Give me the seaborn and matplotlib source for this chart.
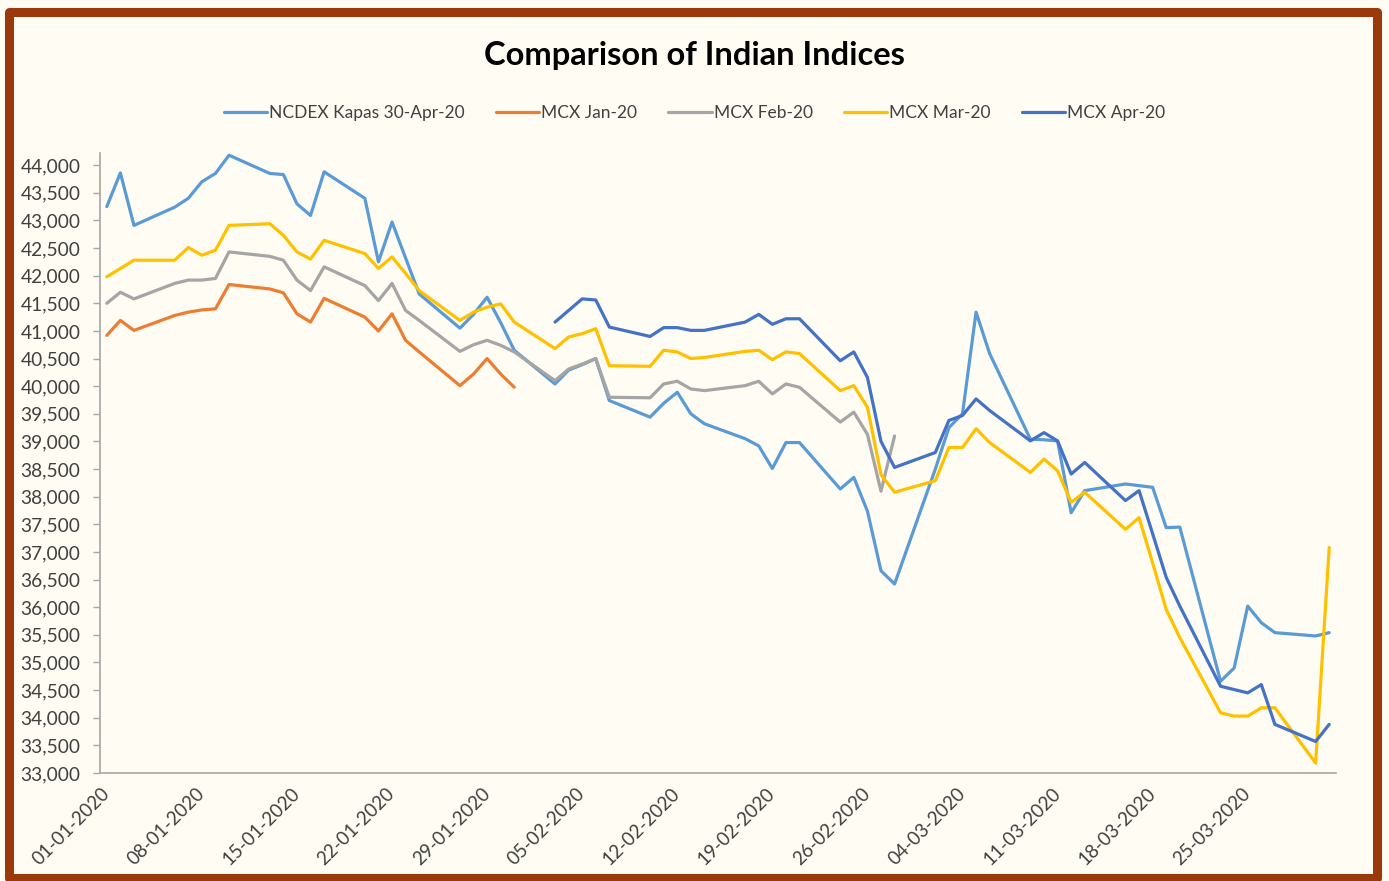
import numpy as np
import pandas as pd
import matplotlib
matplotlib.use('Agg')
import matplotlib.pyplot as plt
import matplotlib.dates as mdates
from matplotlib.patches import Rectangle
from matplotlib.ticker import FuncFormatter
import seaborn as sns

# ---------------------------------------------------------
# Data: trading days Jan-Mar 2020 and closing levels
# ---------------------------------------------------------
JAN_DAYS = [1, 2, 3, 6, 7, 8, 9, 10, 13, 14, 15, 16, 17, 20, 21, 22, 23, 24, 27, 28, 29, 30, 31]
FEB_DAYS = [3, 4, 5, 6, 7, 10, 11, 12, 13, 14, 17, 18, 19, 20, 21, 24, 25, 26, 27, 28]
MAR_DAYS = [2, 3, 4, 5, 6, 9, 10, 11, 12, 13, 16, 17, 18, 19, 20, 23, 24, 25, 26, 27, 30, 31]

NCDEX_KAPAS = [43250, 43860, 42910, 43240, 43400, 43700, 43850, 44180, 43850, 43830, 43300, 43090,
               43880, 43400, 42250, 42970, 42320, 41670, 41050, 41300, 41610, 41150, 40650,
               40040, 40290, 40390, 40500, 39740, 39440, 39690, 39890, 39500, 39320, 39050, 38920,
               38510, 38980, 38980, 38140, 38350, 37740, 36660, 36420,
               38500, 39250, 39500, 41340, 40590, 39040, 39030, 39010, 37710, 38110, 38230, 38200,
               38170, 37440, 37450, 34660, 34900, 36020, 35720, 35540, 35480, 35540]
MCX_JAN = [40920, 41190, 41010, 41280, 41340, 41380, 41400, 41840, 41760, 41690, 41310, 41160,
           41590, 41250, 41000, 41310, 40830, 40620, 40010, 40220, 40500, 40220, 39980] + [np.nan] * 42
MCX_FEB = [41500, 41700, 41580, 41860, 41920, 41920, 41950, 42430, 42350, 42280, 41920, 41730,
           42160, 41820, 41550, 41860, 41370, 41190, 40630, 40750, 40830, 40740, 40620,
           40100, 40310, 40400, 40500, 39800, 39790, 40040, 40090, 39950, 39920, 40010, 40090,
           39860, 40040, 39980, 39350, 39530, 39130, 38100, 39100] + [np.nan] * 22
MCX_MAR = [41980, 42130, 42280, 42280, 42510, 42370, 42460, 42910, 42940, 42730, 42430, 42300,
           42640, 42400, 42130, 42340, 42040, 41730, 41190, 41340, 41430, 41490, 41160,
           40680, 40890, 40950, 41040, 40370, 40360, 40650, 40620, 40500, 40520, 40630, 40650,
           40480, 40620, 40590, 39920, 40010, 39620, 38400, 38080,
           38290, 38890, 38890, 39230, 38980, 38440, 38680, 38470, 37900, 38080, 37410, 37620,
           36800, 35960, 35450, 34090, 34030, 34030, 34180, 34180, 33180, 37080]
MCX_APR = [np.nan] * 23 + [
           41160, 41370, 41580, 41560, 41070, 40900, 41060, 41060, 41010, 41010, 41160, 41300,
           41120, 41220, 41220, 40460, 40620, 40160, 39000, 38530,
           38800, 39380, 39470, 39770, 39560, 39010, 39160, 39010, 38410, 38620, 37930, 38110,
           37330, 36540, 36020, 34570, 34510, 34450, 34600, 33880, 33570, 33880]

SERIES = ['NCDEX Kapas 30-Apr-20', 'MCX Jan-20', 'MCX Feb-20', 'MCX Mar-20', 'MCX Apr-20']
COLORS = ['#5B9BD5', '#ED7D31', '#A5A5A5', '#FFC000', '#4472C4']

BG = '#FFFCF3'
FRAME = '#9A3A0C'

dates = ([pd.Timestamp(2020, 1, d) for d in JAN_DAYS] +
         [pd.Timestamp(2020, 2, d) for d in FEB_DAYS] +
         [pd.Timestamp(2020, 3, d) for d in MAR_DAYS])

wide = pd.DataFrame({'Date': dates,
                     SERIES[0]: NCDEX_KAPAS, SERIES[1]: MCX_JAN, SERIES[2]: MCX_FEB,
                     SERIES[3]: MCX_MAR, SERIES[4]: MCX_APR})
df = wide.melt(id_vars='Date', var_name='Series', value_name='Price').dropna()

sns.set_style('white')
plt.rcParams['font.family'] = ['Lato', 'DejaVu Sans']

fig = plt.figure(figsize=(13.89, 8.81), dpi=100, facecolor=BG)
ax = fig.add_axes([100 / 1389, 1 - 773 / 881, 1236 / 1389, (773 - 153) / 881])
ax.set_facecolor(BG)

sns.lineplot(data=df, x='Date', y='Price', hue='Series', hue_order=SERIES,
             palette=COLORS, estimator=None, linewidth=2.3, ax=ax, legend=True)

# axis limits: one slot per calendar day, points in slot centres
ax.set_xlim(pd.Timestamp(2019, 12, 31, 12), pd.Timestamp(2020, 3, 31, 12))
ax.set_ylim(33000, 44220)
ax.set_yticks(np.arange(33000, 44001, 500))
ax.yaxis.set_major_formatter(FuncFormatter(lambda v, p: f'{v:,.0f}'))

ax.set_xticks(pd.date_range('2020-01-01', '2020-03-25', freq='7D'))
ax.xaxis.set_major_formatter(mdates.DateFormatter('%d-%m-%Y'))
ax.set_xticks(pd.date_range('2019-12-31 12:00', '2020-03-31 12:00', freq='D'), minor=True)

ax.tick_params(axis='x', which='major', length=0, pad=13, labelsize=13.5, labelcolor='#404040')
ax.tick_params(axis='x', which='minor', length=4, color='#A6A6A6', direction='out', width=1)
ax.tick_params(axis='y', length=5, color='#A6A6A6', width=1, pad=9, labelsize=13.8,
               labelcolor='#404040', left=True)
for lab in ax.get_xticklabels():
    lab.set_rotation(45)
    lab.set_ha('right')
    lab.set_va('center')
    lab.set_rotation_mode('anchor')

for side in ['top', 'right']:
    ax.spines[side].set_visible(False)
for side in ['left', 'bottom']:
    ax.spines[side].set_color('#A6A6A6')
    ax.spines[side].set_linewidth(1.2)

ax.set_xlabel('')
ax.set_ylabel('')

handles, labels = ax.get_legend_handles_labels()
ax.get_legend().remove()
fig.legend(handles, labels, loc='center', bbox_to_anchor=(0.5, 1 - 113 / 881), ncol=5,
           frameon=False, fontsize=12.5, handlelength=2.5, handletextpad=0.1,
           columnspacing=1.8, labelcolor='#404040')

fig.text(0.5, 1 - 56 / 881, 'Comparison of Indian Indices', ha='center', va='center',
         fontsize=23.5, fontweight='bold', color='black')

# outer chart frame
fig.patches.append(Rectangle((9 / 1389, 3 / 881), 1368 / 1389, 866 / 881, transform=fig.transFigure,
                             fill=False, edgecolor=FRAME, linewidth=6.5, joinstyle='round'))

plt.savefig('out.png', dpi=100, facecolor=BG)
plt.close()
